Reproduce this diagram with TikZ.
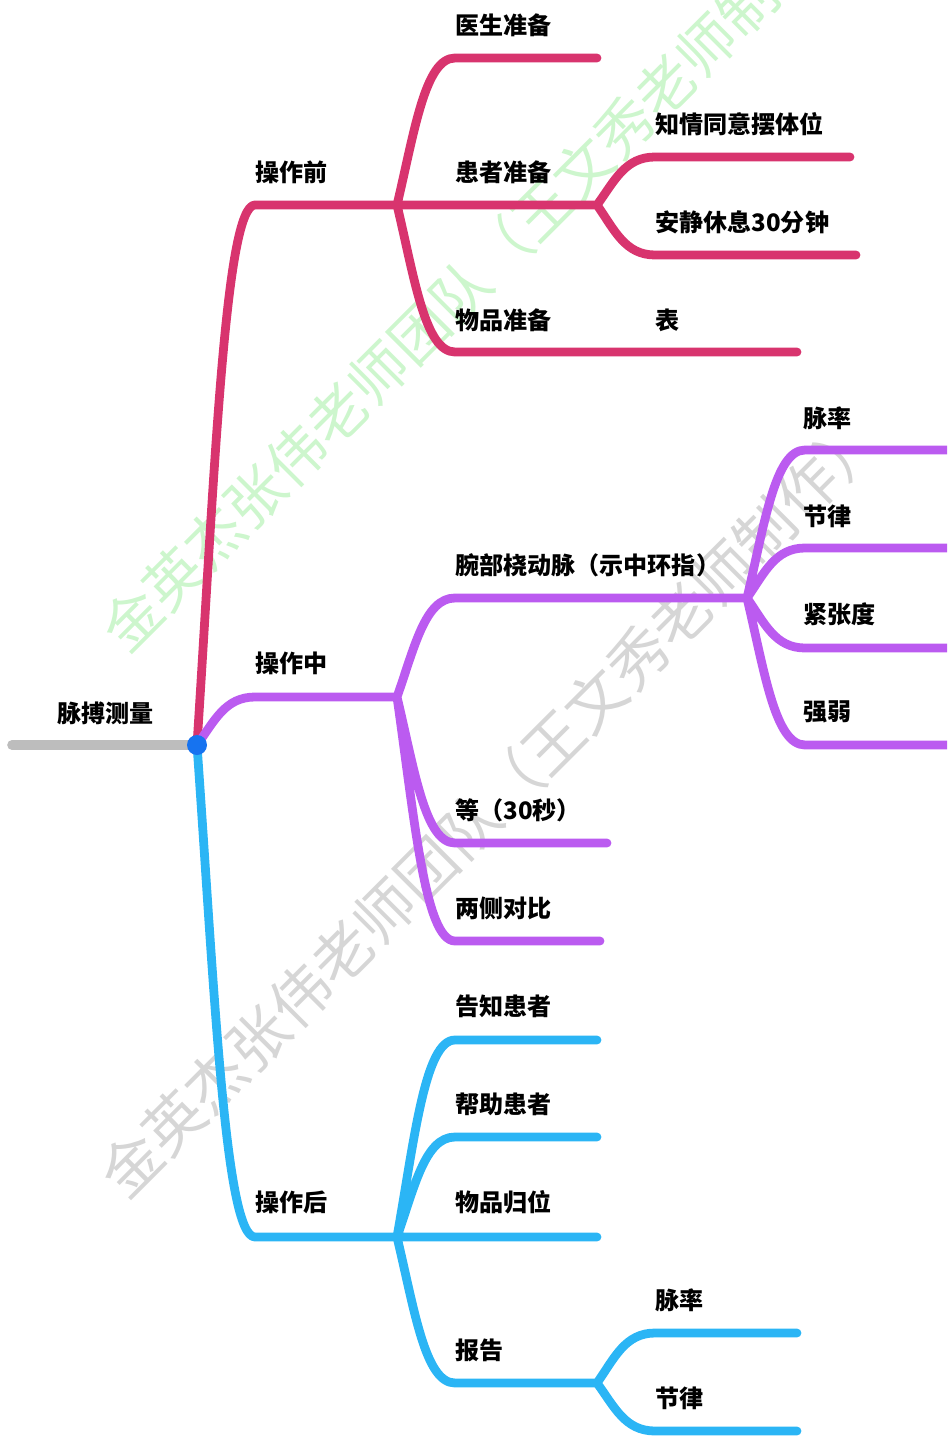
\documentclass[tikz,border=0pt]{standalone}
\usepackage{fontspec}
\setmainfont{Noto Sans CJK SC}
\newfontfamily\labelfont{Noto Sans CJK SC}
\usetikzlibrary{calc,positioning}
\definecolor{prered}{HTML}{D8346E}
\definecolor{midpurple}{HTML}{BB5BF0}
\definecolor{postblue}{HTML}{2BB5F5}
\definecolor{dotblue}{HTML}{1673F0}
\definecolor{rootgray}{HTML}{BDBDBD}
\definecolor{wmgreen}{HTML}{CDF6CD}
\definecolor{wmgray}{HTML}{D6D6D6}

\begin{document}
\begin{tikzpicture}[x=0.02cm,y=-0.02cm]
\tikzstyle{branch}=[line width=5pt,line cap=round,line join=round,
  to path={.. controls ($(\tikztostart)!0.5!(\tikztostart|-\tikztotarget)+(17.5,0)$) and ($(\tikztostart|-\tikztotarget)+(28,0)$) .. ($(\tikztostart|-\tikztotarget)+(58,0)$) -- (\tikztotarget)}]
\tikzstyle{beforeline}=[branch,draw=prered]
\tikzstyle{duringline}=[branch,draw=midpurple]
\tikzstyle{afterline}=[branch,draw=postblue]
\tikzstyle{txt}=[anchor=west,inner sep=0pt,font=\labelfont\bfseries\fontsize{13.7}{16}\selectfont]
\tikzstyle{wmtext}=[anchor=west,inner sep=0pt,rotate=45,font=\fontsize{33}{36}\selectfont]

\useasboundingbox (0,0) rectangle (947,1436);
\clip (0,0) rectangle (947,1436);

\node[wmtext,text=wmgreen] (wmone) at (112,640) {金英杰张伟老师团队（王文秀老师制作）};
\node[wmtext,text=wmgray,font=\fontsize{34}{37}\selectfont] (wmtwo) at (110,1186) {金英杰张伟老师团队（王文秀老师制作）};

\coordinate (start) at (12,745);
\coordinate (root) at (197,745);
\coordinate (before) at (397,205);
\coordinate (during) at (397,697);
\coordinate (after) at (397,1237);
\coordinate (patient) at (597,205);
\coordinate (wrist) at (747,598);
\coordinate (report) at (597,1383);

\coordinate (doctorend) at (597,58);
\coordinate (consentend) at (850,157);
\coordinate (restend) at (856,255);
\coordinate (itemsend) at (597,352);
\coordinate (watchend) at (797,352);
\coordinate (rateend) at (960,450);
\coordinate (rhythmend) at (960,548);
\coordinate (tensionend) at (960,648);
\coordinate (strengthend) at (960,745);
\coordinate (waitend) at (607,843);
\coordinate (compareend) at (600,941);
\coordinate (informend) at (597,1040);
\coordinate (helpend) at (597,1137);
\coordinate (tidyend) at (597,1237);
\coordinate (ratetwoend) at (797,1333);
\coordinate (rhythmtwoend) at (797,1431);

\draw[beforeline] (root) to (before)
  (before) to (doctorend)
  (before) to (patient)
  (patient) to (consentend)
  (patient) to (restend)
  (before) to (itemsend) -- (watchend);

\draw[duringline] (root) to (during)
  (during) to (wrist)
  (wrist) to (rateend)
  (wrist) to (rhythmend)
  (wrist) to (tensionend)
  (wrist) to (strengthend)
  (during) to (waitend)
  (during) to (compareend);

\draw[afterline] (root) to (after)
  (after) to (informend)
  (after) to (helpend)
  (after) to (tidyend)
  (after) to (report)
  (report) to (ratetwoend)
  (report) to (rhythmtwoend);

\draw[line width=5.5pt,line cap=round,draw=rootgray] (start) -- (root);
\node[circle,fill=dotblue,inner sep=0pt,minimum size=0.4cm] (dot) at (root) {};

\node[txt] (measure) at (57,713) {脉搏测量};
\node[txt] (beforecontent) at (255,172) {操作前};
\node[txt] (doctor) at (455,25) {医生准备};
\node[txt] (patientcontent) at (455,172) {患者准备};
\node[txt] (items) at (455,320) {物品准备};
\node[txt] (watch) at (655,320) {表};
\node[txt] (consent) at (655,124) {知情同意摆体位};
\node[txt] (rest) at (655,222) {安静休息30分钟};
\node[txt] (duringcontent) at (255,663) {操作中};
\node[txt] (wristcontent) at (455,565) {腕部桡动脉（示中环指）};
\node[txt] (rate) at (803,418) {脉率};
\node[txt] (rhythm) at (803,516) {节律};
\node[txt] (tension) at (803,614) {紧张度};
\node[txt] (strength) at (803,712) {强弱};
\node[txt] (wait) at (455,810) {等（30秒）};
\node[txt] (compare) at (455,908) {两侧对比};
\node[txt] (aftercontent) at (255,1202) {操作后};
\node[txt] (inform) at (455,1006) {告知患者};
\node[txt] (help) at (455,1104) {帮助患者};
\node[txt] (tidy) at (455,1202) {物品归位};
\node[txt] (reportcontent) at (455,1350) {报告};
\node[txt] (ratetwo) at (655,1300) {脉率};
\node[txt] (rhythmtwo) at (655,1398) {节律};
\end{tikzpicture}
\end{document}
